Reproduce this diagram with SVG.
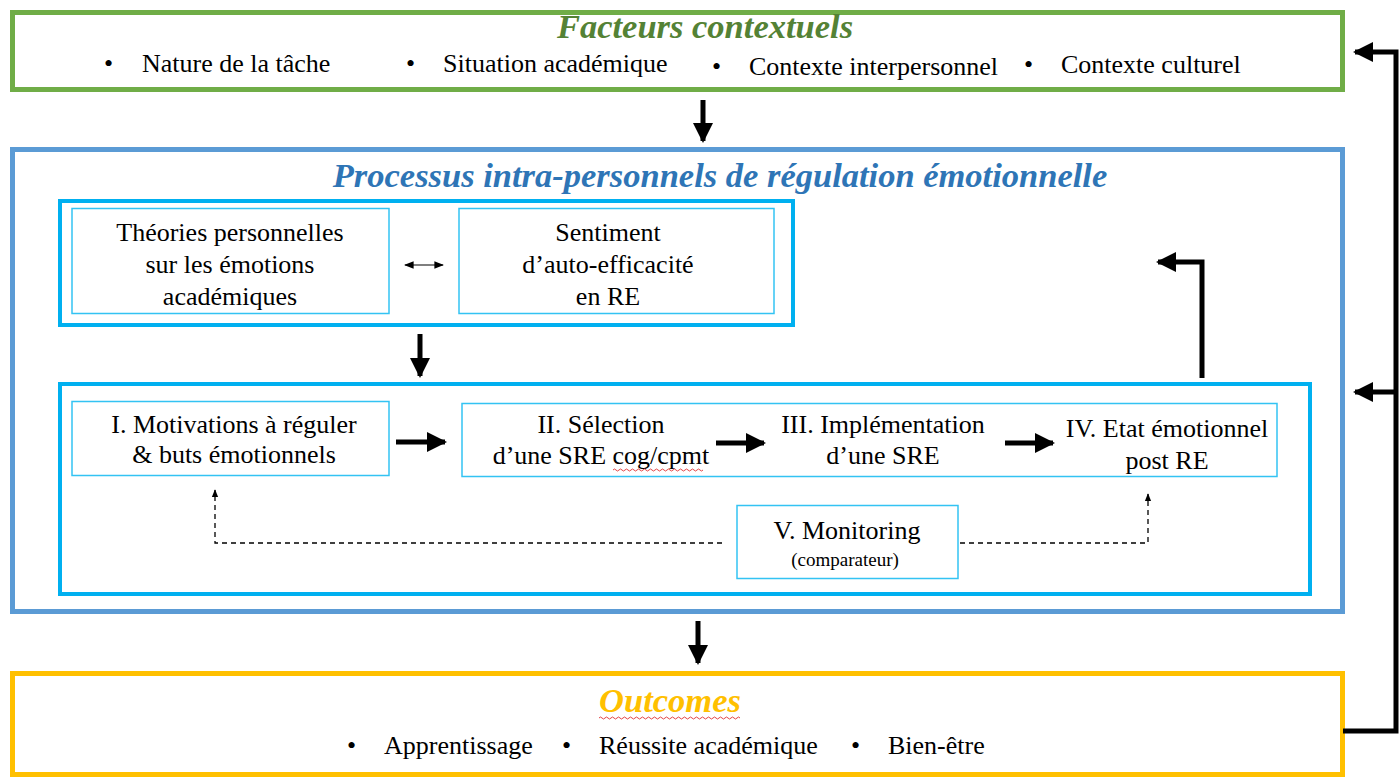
<svg xmlns="http://www.w3.org/2000/svg" width="1400" height="777" viewBox="0 0 1400 777">
<defs>
<style>
text{font-family:"Liberation Serif","Times New Roman",serif;fill:#000;}
.t{font-size:26px;text-anchor:middle;}
.b{font-size:26px;}
.title{font-size:34.5px;font-weight:bold;font-style:italic;text-anchor:middle;}
.box{fill:#fff;stroke:#33C3F3;stroke-width:1.5;}
.grp{fill:none;stroke:#00B0F0;stroke-width:4;}
.thick{fill:none;stroke:#000;stroke-width:5;}
.dash{fill:none;stroke:#000;stroke-width:1.3;stroke-dasharray:5,4;}
</style>
<marker id="ah" viewBox="0 0 10 10" refX="9" refY="5" markerWidth="4" markerHeight="4" orient="auto" markerUnits="strokeWidth"><path d="M0,0L10,5L0,10z" fill="#000"/></marker>
<marker id="sh" viewBox="0 0 10 10" refX="9" refY="5" markerWidth="6" markerHeight="6" orient="auto" markerUnits="strokeWidth"><path d="M0,1L10,5L0,9z" fill="#000"/></marker>
<marker id="th" viewBox="0 0 10 10" refX="9" refY="5" markerWidth="8" markerHeight="8" orient="auto-start-reverse" markerUnits="strokeWidth"><path d="M0,1L10,5L0,9z" fill="#000"/></marker>
</defs>

<g id="contextuels">
<rect x="12.5" y="12.5" width="1330" height="77" fill="#fff" stroke="#70AD47" stroke-width="5"/>
<text class="title" x="705" y="38" style="fill:#548235">Facteurs contextuels</text>
<text class="b" x="104" y="72">•</text><text class="b" x="142" y="72">Nature de la tâche</text>
<text class="b" x="406" y="72">•</text><text class="b" x="443" y="72">Situation académique</text>
<text class="b" x="712" y="75">•</text><text class="b" x="749" y="75">Contexte interpersonnel</text>
<text class="b" x="1024" y="73">•</text><text class="b" x="1061" y="73">Contexte culturel</text>
</g>

<g id="processus">
<rect x="12.5" y="149.5" width="1330" height="462" fill="#fff" stroke="#5B9BD5" stroke-width="5"/>
<text class="title" x="720" y="187" style="fill:#2E75B6">Processus intra-personnels de régulation émotionnelle</text>
</g>

<g id="croyances">
<rect class="grp" x="60" y="201" width="733" height="124"/>
</g>
<g id="theories">
<rect class="box" x="72" y="208.5" width="317" height="105"/>
<text class="t" x="230" y="241">Théories personnelles</text>
<text class="t" x="230" y="273">sur les émotions</text>
<text class="t" x="230" y="305">académiques</text>
</g>
<g id="sentiment">
<rect class="box" x="459" y="208.5" width="315" height="105"/>
<text class="t" x="608" y="241">Sentiment</text>
<text class="t" x="608" y="273">d’auto-efficacité</text>
<text class="t" x="608" y="305">en RE</text>
</g>

<g id="processus-re">
<rect class="grp" x="60" y="384" width="1250" height="210"/>
</g>
<g id="motivations">
<rect class="box" x="72" y="401.5" width="317" height="74"/>
<text class="t" x="234" y="433">I. Motivations à réguler</text>
<text class="t" x="234" y="463">&amp; buts émotionnels</text>
</g>
<g id="etapes">
<rect class="box" x="462" y="403.5" width="815" height="73"/>
</g>
<g id="selection">
<text class="t" x="601" y="433">II. Sélection</text>
<text class="t" x="601" y="464">d’une SRE cog/cpmt</text>
<path d="M613,470 q1.5,-2 3,0 t3,0 t3,0 t3,0 t3,0 t3,0 t3,0 t3,0 t3,0 t3,0 t3,0 t3,0 t3,0 t3,0 t3,0 t3,0 t3,0 t3,0 t3,0 t3,0 t3,0 t3,0 t3,0 t3,0 t3,0 t3,0 t3,0 t3,0 t3,0 t3,0" fill="none" stroke="#E03030" stroke-width="0.9"/>
</g>
<g id="implementation">
<text class="t" x="883" y="433">III. Implémentation</text>
<text class="t" x="883" y="464">d’une SRE</text>
</g>
<g id="etat">
<text class="t" x="1167" y="437">IV. Etat émotionnel</text>
<text class="t" x="1167" y="469">post RE</text>
</g>
<g id="monitoring">
<rect class="box" x="737" y="505.5" width="221" height="73"/>
<text class="t" x="847" y="539">V. Monitoring</text>
<text x="845" y="566" style="font-size:19px;text-anchor:middle">(comparateur)</text>
</g>

<g id="outcomes">
<rect x="12.5" y="673.5" width="1330" height="101" fill="#fff" stroke="#FFC000" stroke-width="5"/>
<text class="title" x="670" y="712" style="fill:#FFC000">Outcomes</text>
<path d="M599,718 q1.5,-2 3,0 t3,0 t3,0 t3,0 t3,0 t3,0 t3,0 t3,0 t3,0 t3,0 t3,0 t3,0 t3,0 t3,0 t3,0 t3,0 t3,0 t3,0 t3,0 t3,0 t3,0 t3,0 t3,0 t3,0 t3,0 t3,0 t3,0 t3,0 t3,0 t3,0 t3,0 t3,0 t3,0 t3,0 t3,0 t3,0 t3,0 t3,0 t3,0 t3,0 t3,0 t3,0 t3,0 t3,0 t3,0 t3,0 t3,0" fill="none" stroke="#E03030" stroke-width="0.9"/>
<text class="b" x="347" y="754">•</text><text class="b" x="384" y="754">Apprentissage</text>
<text class="b" x="562" y="754">•</text><text class="b" x="599" y="754">Réussite académique</text>
<text class="b" x="851" y="754">•</text><text class="b" x="888" y="754">Bien-être</text>
</g>

<g id="connectors">
<line class="thick" x1="703" y1="100" x2="703" y2="141" stroke-width="4" marker-end="url(#ah)"/>
<line class="thick" x1="420" y1="334" x2="420" y2="376" stroke-width="4" marker-end="url(#ah)"/>
<line class="thick" x1="698" y1="621" x2="698" y2="663" stroke-width="4" marker-end="url(#ah)"/>
<line x1="405" y1="265" x2="443" y2="265" stroke="#000" stroke-width="1.2" marker-start="url(#th)" marker-end="url(#th)"/>
<line class="thick" x1="396" y1="442" x2="445" y2="442" stroke-width="5" marker-end="url(#ah)"/>
<line class="thick" x1="716" y1="443" x2="764" y2="443" stroke-width="5" marker-end="url(#ah)"/>
<line class="thick" x1="1005" y1="443" x2="1053" y2="443" stroke-width="5" marker-end="url(#ah)"/>
<polyline class="thick" points="1202,378 1202,262 1158,262" stroke-width="4" marker-end="url(#ah)"/>
<polyline class="dash" points="722,543 215,543 215,490" marker-end="url(#sh)"/>
<polyline class="dash" points="960,543 1148,543 1148,494" marker-end="url(#sh)"/>
<polyline class="thick" points="1343,731 1396,731 1396,52 1355,52" stroke-width="4" marker-end="url(#ah)"/>
<line class="thick" x1="1396" y1="392" x2="1355" y2="392" stroke-width="4" marker-end="url(#ah)"/>
</g>
</svg>
